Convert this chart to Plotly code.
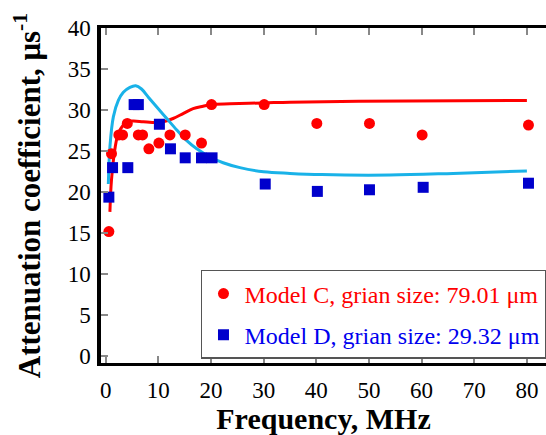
import plotly.graph_objects as go

# ---- data ----
freq_c = [0.6, 1.1, 2.5, 3.2, 4.1, 6.2, 7.0, 8.2, 10.1, 12.2, 15.1, 18.2, 20.1, 30.1, 40.1, 50.1, 60.1, 80.3]
atten_c = [15.2, 24.7, 27.0, 27.0, 28.4, 27.0, 27.0, 25.3, 26.0, 27.0, 27.0, 26.0, 30.7, 30.7, 28.4, 28.4, 27.0, 28.2]

freq_d = [0.6, 1.3, 4.2, 5.4, 6.2, 10.2, 12.3, 15.1, 18.2, 20.2, 30.3, 40.2, 50.1, 60.3, 80.3]
atten_d = [19.4, 23.0, 23.0, 30.7, 30.7, 28.3, 25.3, 24.2, 24.2, 24.2, 21.0, 20.1, 20.3, 20.6, 21.1]

curve_c_f = [0.8, 1.1, 1.8, 2.4, 3.35, 4.0, 5.25, 7.15, 9.7, 10.9, 12.8, 14.7, 16.6, 18.5, 20.0, 23.6, 30.0, 35.0, 48.0, 80.0]
curve_c_v = [17.6, 21.5, 25.5, 27.2, 28.2, 28.6, 28.7, 28.6, 28.5, 28.6, 29.0, 29.6, 30.2, 30.5, 30.7, 30.8, 30.9, 31.0, 31.1, 31.2]

curve_d_f = [0.5, 0.8, 1.45, 2.4, 3.35, 4.6, 5.7, 6.8, 8.1, 9.7, 11.6, 13.5, 15.4, 17.3, 19.8, 22.3, 25.5, 30.0, 35.0, 41.0, 54.0, 66.0, 80.0]
curve_d_v = [21.0, 25.5, 29.2, 31.2, 32.2, 32.8, 33.0, 32.6, 31.6, 30.4, 29.0, 27.6, 26.3, 25.3, 24.3, 23.6, 23.0, 22.5, 22.3, 22.15, 22.1, 22.3, 22.6]

x_ticks = [0, 10, 20, 30, 40, 50, 60, 70, 80]
y_ticks = [0, 5, 10, 15, 20, 25, 30, 35, 40]

name_c = "<span style='color:#ff0000'>Model C, grian size: 79.01 \u03bcm</span>"
name_d = "<span style='color:#0000ee'>Model D, grian size: 29.32 \u03bcm</span>"

FONT = "Liberation Serif, Times New Roman, serif"

fig = go.Figure()
fig.add_trace(go.Scatter(x=curve_c_f, y=curve_c_v, mode="lines", line=dict(color="#ff0000", width=3, shape="spline"),
                         showlegend=False, hoverinfo="skip"))
fig.add_trace(go.Scatter(x=curve_d_f, y=curve_d_v, mode="lines", line=dict(color="#19b2e8", width=3, shape="spline"),
                         showlegend=False, hoverinfo="skip"))
fig.add_trace(go.Scatter(x=freq_c, y=atten_c, mode="markers", name=name_c, legendgroup="c",
                         marker=dict(symbol="circle", size=11, color="#ff0000")))
fig.add_trace(go.Scatter(x=freq_d, y=atten_d, mode="markers", name=name_d, legendgroup="d",
                         marker=dict(symbol="square", size=11, color="#0000cc")))

fig.update_layout(
    width=546, height=435,
    margin=dict(l=101, r=0, t=28, b=72, autoexpand=False),
    paper_bgcolor="white", plot_bgcolor="white",
    font=dict(family=FONT, size=23, color="black"),
    showlegend=True,
    legend=dict(x=0.2247, y=0.012, xanchor="left", yanchor="bottom",
                bordercolor="#555555", borderwidth=1.5, bgcolor="white",
                font=dict(family=FONT, size=24), tracegroupgap=7,
                itemwidth=32, traceorder="grouped"),
    xaxis=dict(range=[-0.893, 83.63], tickvals=x_ticks, ticktext=[str(v) for v in x_ticks],
               automargin=False,
               showgrid=False, zeroline=False, showline=True, linecolor="black", linewidth=3,
               mirror="ticks", ticks="inside", ticklen=7, tickwidth=2, tickcolor="#888888",
               tickfont=dict(size=23), ticklabelstandoff=4,
               title=dict(text="<b>Frequency, MHz</b>", font=dict(size=30), standoff=11)),
    yaxis=dict(range=[-0.85, 40.05], tickvals=y_ticks, ticktext=[str(v) for v in y_ticks],
               automargin=False,
               showgrid=False, zeroline=False, showline=True, linecolor="black", linewidth=3.5,
               mirror=False, ticks="inside", ticklen=7, tickwidth=2, tickcolor="#888888",
               tickfont=dict(size=23), ticklabelstandoff=2,
               title=dict(text="<b>Attenuation coefficient, \u03bcs<sup>-1</sup></b>", font=dict(size=31), standoff=19)),
)

fig.write_html("out.html")
